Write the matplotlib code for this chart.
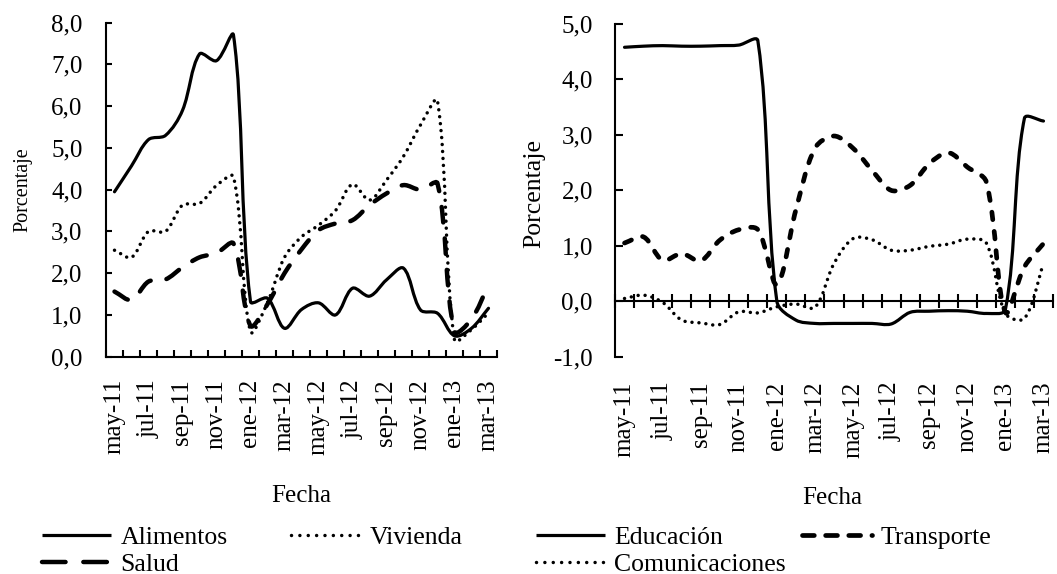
import numpy as np
import matplotlib
matplotlib.use("Agg")
import matplotlib.pyplot as plt
from matplotlib.path import Path
from matplotlib.patches import PathPatch
from matplotlib.lines import Line2D

plt.rcParams['font.family'] = ['Liberation Serif', 'DejaVu Serif']

# ---------------- data ----------------
meses = ['may-11', 'jun-11', 'jul-11', 'ago-11', 'sep-11', 'oct-11', 'nov-11', 'dic-11',
         'ene-12', 'feb-12', 'mar-12', 'abr-12', 'may-12', 'jun-12', 'jul-12', 'ago-12',
         'sep-12', 'oct-12', 'nov-12', 'dic-12', 'ene-13', 'feb-13', 'mar-13']

alimentos = [3.95, 4.57, 5.2, 5.3, 5.9, 7.25, 7.09, 7.7, 1.32, 1.4, 0.68, 1.13,
             1.29, 1.0, 1.64, 1.45, 1.84, 2.12, 1.12, 1.04, 0.5, 0.68, 1.16]
vivienda = [2.55, 2.38, 3.0, 3.0, 3.63, 3.67, 4.1, 4.31, 0.6, 1.3, 2.38, 2.87,
            3.15, 3.5, 4.13, 3.75, 4.23, 4.8, 5.55, 6.13, 0.4, 0.65, 1.05]
salud = [1.56, 1.36, 1.8, 1.85, 2.14, 2.38, 2.48, 2.71, 0.74, 1.26, 2.0, 2.57,
         3.03, 3.19, 3.27, 3.63, 3.91, 4.11, 4.0, 4.15, 0.6, 0.9, 1.72]

educacion = [4.58, 4.6, 4.61, 4.6, 4.6, 4.61, 4.62, 4.7, 0.0, -0.34, -0.4, -0.4,
             -0.4, -0.4, -0.41, -0.2, -0.18, -0.17, -0.18, -0.22, -0.15, 3.3, 3.25]
transporte = [1.05, 1.16, 0.74, 0.86, 0.73, 1.1, 1.29, 1.29, 0.3, 1.65, 2.76, 2.98,
              2.76, 2.36, 2.0, 2.09, 2.48, 2.68, 2.42, 2.15, -0.2, 0.62, 1.04]
comunicaciones = [0.05, 0.11, -0.02, -0.34, -0.39, -0.42, -0.19, -0.21, -0.1, -0.05, -0.11, 0.68,
                  1.13, 1.11, 0.92, 0.92, 0.99, 1.03, 1.12, 1.05, -0.22, -0.31, 0.68]

yticks_izq = [0, 1, 2, 3, 4, 5, 6, 7, 8]
yticks_der = [-1, 0, 1, 2, 3, 4, 5]

# ---------------- styles ----------------
STY = {
    'solid': dict(lw=2.3, ls='-', leg='-'),
    'dot': dict(lw=2.5, ls=(0, (0.01, 2.0)), leg=(0, (0.01, 2.4))),
    'longdash': dict(lw=3.2, ls=(0, (3.5, 3.6)), leg=(0, (5.3, 4.0))),
    'dash': dict(lw=3.4, ls=(0, (1.6, 2.5)), leg=(0, (2.5, 2.4))),
}

FS = 18
FS_LEG = 18.5
W, H = 1057, 574


def smooth_path(ax, xs, ys, s=1.0 / 3.0):
    """Excel-like smoothed line: cubic Bezier through the data points, with
    control-point distances weighted by the on-screen segment lengths."""
    pts = np.column_stack([xs, ys]).astype(float)
    disp = ax.transData.transform(pts)
    n = len(pts)
    c_in = np.zeros_like(pts)
    c_out = np.zeros_like(pts)
    for i in range(n):
        im = max(i - 1, 0)
        ip = min(i + 1, n - 1)
        T = pts[ip] - pts[im]
        dp = np.hypot(*(disp[i] - disp[im]))
        dn = np.hypot(*(disp[ip] - disp[i]))
        tot = dp + dn if dp + dn > 0 else 1.0
        c_in[i] = pts[i] - T * s * dp / tot
        c_out[i] = pts[i] + T * s * dn / tot
    verts = [pts[0]]
    codes = [Path.MOVETO]
    for i in range(n - 1):
        verts += [c_out[i], c_in[i + 1], pts[i + 1]]
        codes += [Path.CURVE4] * 3
    return Path(np.array(verts), codes)


def draw_series(ax, values, style):
    x = np.arange(len(values))
    st = STY[style]
    patch = PathPatch(smooth_path(ax, x, values), fill=False, edgecolor='black',
                      linewidth=st['lw'], linestyle=st['ls'],
                      capstyle='round', joinstyle='round', zorder=3)
    ax.add_patch(patch)


def handle(style):
    st = STY[style]
    return Line2D([], [], color='black', linewidth=st['lw'], linestyle=st['leg'],
                  dash_capstyle='round', solid_capstyle='butt')


def frac_rect(x0, x1, ytop, ybot):
    return [x0 / W, (H - ybot) / H, (x1 - x0) / W, (ybot - ytop) / H]


fig = plt.figure(figsize=(W / 100, H / 100), dpi=100)
ax1 = fig.add_axes(frac_rect(106, 497, 22.7, 356.7))
ax2 = fig.add_axes(frac_rect(615, 1053, 24, 356.7))

n = len(meses)
bounds = np.arange(n + 1) - 0.5
centers = np.arange(n)

# ---------------- left panel ----------------
ax1.set_xlim(-0.5, n - 0.5)
ax1.set_ylim(0, 8)
draw_series(ax1, alimentos, 'solid')
draw_series(ax1, vivienda, 'dot')
draw_series(ax1, salud, 'longdash')
for s in ['top', 'right']:
    ax1.spines[s].set_visible(False)
for s in ['left', 'bottom']:
    ax1.spines[s].set_linewidth(1.5)
ax1.set_yticks(yticks_izq, [f"{v:.1f}".replace('.', ',') for v in yticks_izq])
ax1.tick_params(axis='y', direction='in', length=4.5, width=1.5, pad=17, labelsize=FS)
ax1.set_xticks(bounds, [''] * len(bounds))
ax1.tick_params(axis='x', which='major', direction='in', length=5, width=1.5)
ax1.set_xticks(centers[::2], [meses[i] for i in centers[::2]], minor=True)
ax1.tick_params(axis='x', which='minor', length=0, pad=16, labelsize=FS, labelrotation=90)

# ---------------- right panel ----------------
ax2.set_xlim(-0.5, n - 0.5)
ax2.set_ylim(-1, 5)
draw_series(ax2, educacion, 'solid')
draw_series(ax2, transporte, 'dash')
draw_series(ax2, comunicaciones, 'dot')
for s in ['top', 'right']:
    ax2.spines[s].set_visible(False)
for s in ['left', 'bottom']:
    ax2.spines[s].set_linewidth(1.5)
ax2.spines['bottom'].set_position(('data', 0))
ax2.set_yticks(yticks_der, [f"{v:.1f}".replace('.', ',') for v in yticks_der])
ax2.tick_params(axis='y', direction='in', length=5.5, width=1.5, pad=16, labelsize=FS)
ax2.set_xticks(bounds, [''] * len(bounds))
ax2.tick_params(axis='x', which='major', direction='inout', length=10, width=1.5)
sec = ax2.secondary_xaxis('bottom')
sec.spines['bottom'].set_visible(False)
sec.set_xticks(centers[::2], [meses[i] for i in centers[::2]])
sec.tick_params(axis='x', length=0, pad=18, labelsize=FS, labelrotation=90)

# ---------------- axis titles ----------------
fig.text(301.5 / W, 1 - 496 / H, 'Fecha', ha='center', va='center', fontsize=FS)
fig.text(832 / W, 1 - 498 / H, 'Fecha', ha='center', va='center', fontsize=FS)
fig.text(23 / W, 1 - 190 / H, 'Porcentaje', ha='center', va='center', rotation=90, fontsize=14.5)
fig.text(534 / W, 1 - 194 / H, 'Porcentaje', ha='center', va='center', rotation=90, fontsize=18.5)

# ---------------- legends ----------------
fig.legend([handle('solid'), handle('longdash'), handle('dot')],
           ['Alimentos', 'Salud', 'Vivienda'],
           loc='upper left', bbox_to_anchor=(42 / W, 1 - 526 / H), ncol=2,
           frameon=False, borderpad=0, borderaxespad=0, handlelength=2.7,
           handletextpad=0.35, columnspacing=2.47, labelspacing=0.15, fontsize=FS_LEG)
fig.legend([handle('solid'), handle('dot'), handle('dash')],
           ['Educación', 'Comunicaciones', 'Transporte'],
           loc='upper left', bbox_to_anchor=(536 / W, 1 - 526 / H), ncol=2,
           frameon=False, borderpad=0, borderaxespad=0, handlelength=2.7,
           handletextpad=0.35, columnspacing=0.64, labelspacing=0.15, fontsize=FS_LEG)

fig.savefig('out.png', dpi=100)
